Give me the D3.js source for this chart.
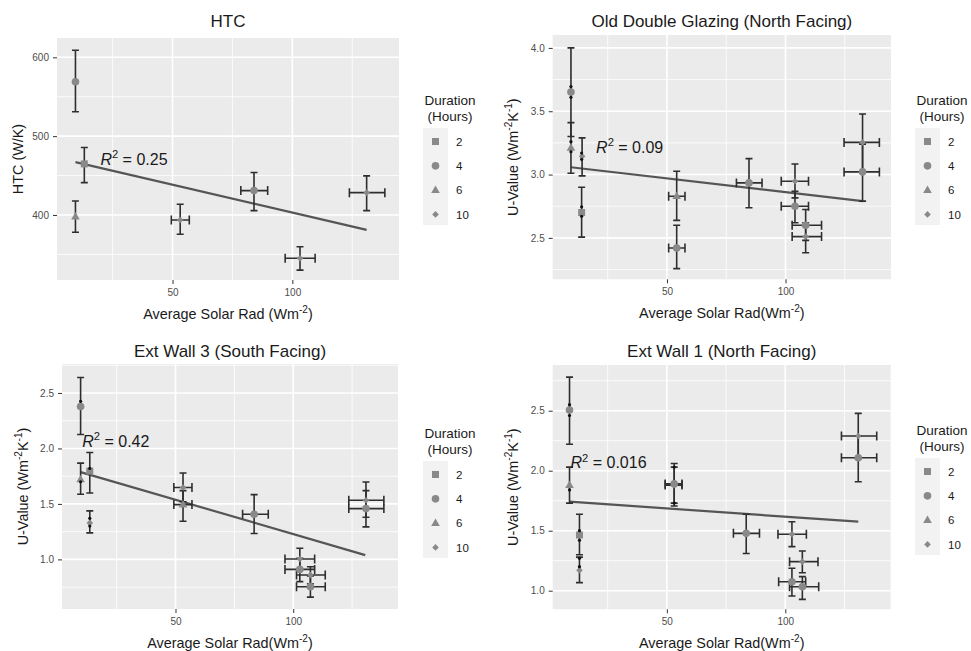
<!DOCTYPE html>
<html>
<head>
<meta charset="utf-8">
<script src="https://cdn.jsdelivr.net/npm/d3@7"></script>
<style>
  body { margin: 0; background: #fff; }
  svg { font-family: "Liberation Sans", Arial, sans-serif; }
</style>
</head>
<body>
<div id="chart"></div>
<script>
// ---- data ----
const durations = [2, 4, 6, 10];
const xTicks = [50, 100];

// HTC
const htcX   = [9.5, 9.5, 13.2, 53.2, 84.0, 103.2, 131.0];
const htcY   = [569, 397.8, 464.8, 393.6, 430.9, 345.0, 428.3];
const htcDur = [4, 6, 2, 10, 4, 10, 10];
const htcYLo = [531, 378, 441, 375.5, 405.5, 330, 405.5];
const htcYHi = [609, 417.8, 485.5, 413.6, 453.8, 359.7, 449.6];
const htcXLo = [null, null, null, 49.5, 78.5, 97.0, 123.8];
const htcXHi = [null, null, null, 57.0, 89.7, 109.5, 138.6];
const htcFit = [[9.5, 467], [131, 381]];
const htcR2 = "0.25";
const htcYTicks = [400, 500, 600];
const htcDotX = [];
const htcDotY = [];

// Old Double Glazing (North Facing)
const glzX   = [9.5, 9.5, 14.2, 14.0, 54.1, 54.1, 84.6, 104.0, 104.0, 108.5, 108.5, 132.5, 132.5];
const glzY   = [3.651, 3.21, 3.144, 2.70, 2.829, 2.42, 2.934, 2.947, 2.75, 2.60, 2.51, 3.254, 3.021];
const glzDur = [4, 6, 10, 2, 6, 4, 4, 10, 4, 4, 10, 10, 4];
const glzYLo = [3.30, 3.01, 2.99, 2.506, 2.638, 2.257, 2.738, 2.816, 2.62, 2.48, 2.383, 3.03, 2.79];
const glzYHi = [4.00, 3.41, 3.29, 2.90, 3.026, 2.60, 3.126, 3.084, 2.868, 2.724, 2.62, 3.478, 3.24];
const glzXLo = [null, null, null, null, 50.7, 50.7, 79.3, 98.2, 98.2, 102.8, 102.8, 124.7, 124.7];
const glzXHi = [null, null, null, null, 57.6, 57.6, 90.1, 109.7, 109.7, 115.2, 115.2, 139.6, 139.6];
const glzFit = [[9.5, 3.058], [132.5, 2.79]];
const glzR2 = "0.09";
const glzYTicks = [2.5, 3.0, 3.5, 4.0];
const glzDotX = [9.5, 9.5, 9.5, 9.5, 14, 14, 14, 14];
const glzDotY = [3.695, 3.61, 3.26, 3.18, 3.17, 3.12, 2.745, 2.67];

// Ext Wall 3 (South Facing)
const w3X   = [9.7, 9.7, 13.6, 13.6, 53.2, 53.2, 83.4, 102.8, 102.8, 107.3, 107.3, 130.9, 130.9];
const w3Y   = [2.378, 1.72, 1.796, 1.329, 1.648, 1.494, 1.407, 1.003, 0.91, 0.859, 0.754, 1.533, 1.458];
const w3Dur = [4, 6, 2, 10, 10, 6, 4, 10, 4, 10, 4, 10, 4];
const w3YLo = [2.126, 1.587, 1.598, 1.239, 1.52, 1.344, 1.234, 0.91, 0.80, 0.78, 0.66, 1.38, 1.293];
const w3YHi = [2.64, 1.868, 1.964, 1.437, 1.778, 1.62, 1.584, 1.10, 1.009, 0.934, 0.85, 1.697, 1.62];
const w3XLo = [null, null, null, null, 49.3, 49.3, 78.5, 96.5, 96.5, 101.4, 101.4, 123.6, 123.6];
const w3XHi = [null, null, null, null, 57.0, 57.0, 89.4, 109.1, 109.1, 113.6, 113.6, 138.5, 138.5];
const w3Fit = [[9.7, 1.787], [130.6, 1.039]];
const w3R2 = "0.42";
const w3YTicks = [1.0, 1.5, 2.0, 2.5];
const w3DotX = [9.7, 9.7, 13.6, 13.6, 13.6];
const w3DotY = [2.425, 1.70, 1.82, 1.37, 1.30];

// Ext Wall 1 (North Facing)
const w1X   = [8.9, 8.9, 13.1, 13.1, 53.1, 53.1, 83.5, 102.8, 107.2, 102.8, 107.2, 130.8, 130.8];
const w1Y   = [2.506, 1.88, 1.464, 1.17, 1.89, 1.88, 1.478, 1.47, 1.242, 1.075, 1.033, 2.289, 2.108];
const w1Dur = [4, 6, 2, 10, 4, 10, 4, 10, 10, 4, 4, 10, 4];
const w1YLo = [2.22, 1.73, 1.30, 1.067, 1.73, 1.706, 1.31, 1.367, 1.15, 0.956, 0.928, 2.10, 1.908];
const w1YHi = [2.78, 2.03, 1.637, 1.28, 2.03, 2.06, 1.637, 1.575, 1.331, 1.187, 1.117, 2.478, 2.29];
const w1XLo = [null, null, null, null, 49.3, 49.3, 78.1, 96.9, 101.8, 97.2, 101.8, 123.7, 123.7];
const w1XHi = [null, null, null, null, 56.4, 56.4, 89.1, 108.9, 113.8, 108.6, 114.1, 138.6, 138.6];
const w1Fit = [[8.9, 1.742], [130.8, 1.575]];
const w1R2 = "0.016";
const w1YTicks = [1.0, 1.5, 2.0, 2.5];
const w1DotX = [8.9, 8.9, 8.9, 13.1, 13.1, 13.1, 13.1, 53.1, 53.1];
const w1DotY = [2.55, 2.46, 1.84, 1.50, 1.42, 1.27, 1.20, 2.03, 1.73];

// ---- panel table ----
const solarLab = sp => [{t: "Average Solar Rad" + sp + "(Wm"}, {t: "-2", sup: true}, {t: ")"}];
const uLab = [{t: "U-Value (Wm"}, {t: "-2", sup: true}, {t: "K"}, {t: "-1", sup: true}, {t: ")"}];

const panels = [
  {title: "HTC", x: htcX, y: htcY, dur: htcDur, yLo: htcYLo, yHi: htcYHi, xLo: htcXLo, xHi: htcXHi,
   fit: htcFit, r2: htcR2, r2At: [19.9, 463.5], yTicks: htcYTicks, yDom: [317.5, 624.5], fmt: d3.format("d"),
   dotX: htcDotX, dotY: htcDotY, xLab: solarLab(" "), yLab: [{t: "HTC (W/K)"}],
   box: {l: 57, r: 399, t: 38, b: 280, titleY: 26.7, yTitleX: 18, legX: 423, legT: 128}},
  {title: "Old Double Glazing (North Facing)", x: glzX, y: glzY, dur: glzDur, yLo: glzYLo, yHi: glzYHi, xLo: glzXLo, xHi: glzXHi,
   fit: glzFit, r2: glzR2, r2At: [20.1, 3.171], yTicks: glzYTicks, yDom: [2.173, 4.102], fmt: d3.format(".1f"),
   dotX: glzDotX, dotY: glzDotY, xLab: solarLab(""), yLab: uLab,
   box: {l: 552.7, r: 891, t: 35, b: 279.3, titleY: 26.5, yTitleX: 513, legX: 915, legT: 128}},
  {title: "Ext Wall 3 (South Facing)", x: w3X, y: w3Y, dur: w3Dur, yLo: w3YLo, yHi: w3YHi, xLo: w3XLo, xHi: w3XHi,
   fit: w3Fit, r2: w3R2, r2At: [10.4, 2.015], yTicks: w3YTicks, yDom: [0.553, 2.761], fmt: d3.format(".1f"),
   dotX: w3DotX, dotY: w3DotY, xLab: solarLab(""), yLab: uLab,
   box: {l: 62, r: 398, t: 364, b: 609, titleY: 356.5, yTitleX: 23, legX: 423, legT: 461}},
  {title: "Ext Wall 1 (North Facing)", x: w1X, y: w1Y, dur: w1Dur, yLo: w1YLo, yHi: w1YHi, xLo: w1XLo, xHi: w1XHi,
   fit: w1Fit, r2: w1R2, r2At: [9.3, 2.02], yTicks: w1YTicks, yDom: [0.845, 2.881], fmt: d3.format(".1f"),
   dotX: w1DotX, dotY: w1DotY, xLab: solarLab(""), yLab: uLab,
   box: {l: 552.7, r: 890.7, t: 365, b: 609.3, titleY: 356.5, yTitleX: 513, legX: 915, legT: 458}}
];

const xDom = [1.8, 144.5];
const ptCol = "#898989";
const barCol = "#2e2e2e";

// ggplot shapes 15,16,17,18
function shapePath(dur) {
  if (dur === 2) return "M-3.5,-3.5H3.5V3.5H-3.5Z";
  if (dur === 4) return d3.symbol(d3.symbolCircle, 46)();
  if (dur === 6) return "M0,-4.6L4.3,2.8H-4.3Z";
  return "M0,-3.3L3.3,0L0,3.3L-3.3,0Z";
}

// text with superscripts
function richText(sel, parts, fs) {
  const t = sel.append("text").attr("font-size", fs);
  let back = 0;
  parts.forEach(p => {
    const s = t.append("tspan").text(p.t);
    if (p.sup) {
      s.attr("font-size", fs * 0.7).attr("dy", -fs * 0.42);
      back = fs * 0.42;
    } else if (back) {
      s.attr("dy", back);
      back = 0;
    }
    if (p.it) s.attr("font-style", "italic");
  });
  return t;
}

const svg = d3.select("#chart").append("svg")
  .attr("width", 971)
  .attr("height", 651);

panels.forEach(p => {
  const b = p.box;
  const g = svg.append("g");
  const x = d3.scaleLinear().domain(xDom).range([b.l, b.r]);
  const y = d3.scaleLinear().domain(p.yDom).range([b.b, b.t]);

  // background
  g.append("rect")
    .attr("x", b.l).attr("y", b.t)
    .attr("width", b.r - b.l).attr("height", b.b - b.t)
    .attr("fill", "#ebebeb");

  // minor + major grid
  const xStep = xTicks[1] - xTicks[0];
  const xMinor = d3.range(xTicks[0] - xStep / 2, xDom[1], xStep).filter(v => v > xDom[0]);
  const yStep = p.yTicks[1] - p.yTicks[0];
  const yMinor = d3.range(p.yTicks[0] - yStep / 2, p.yDom[1], yStep).filter(v => v > p.yDom[0]);

  g.selectAll(".xmin").data(xMinor).enter().append("line")
    .attr("x1", d => x(d)).attr("x2", d => x(d)).attr("y1", b.t).attr("y2", b.b)
    .attr("stroke", "#fff").attr("stroke-width", 0.8);
  g.selectAll(".ymin").data(yMinor).enter().append("line")
    .attr("y1", d => y(d)).attr("y2", d => y(d)).attr("x1", b.l).attr("x2", b.r)
    .attr("stroke", "#fff").attr("stroke-width", 0.8);
  g.selectAll(".xmaj").data(xTicks).enter().append("line")
    .attr("x1", d => x(d)).attr("x2", d => x(d)).attr("y1", b.t).attr("y2", b.b)
    .attr("stroke", "#fff").attr("stroke-width", 1.6);
  g.selectAll(".ymaj").data(p.yTicks).enter().append("line")
    .attr("y1", d => y(d)).attr("y2", d => y(d)).attr("x1", b.l).attr("x2", b.r)
    .attr("stroke", "#fff").attr("stroke-width", 1.6);

  // axes
  const xAxis = g.append("g")
    .attr("transform", `translate(0,${b.b})`)
    .call(d3.axisBottom(x).tickValues(xTicks).tickSize(4).tickPadding(5).tickFormat(d3.format("d")));
  const yAxis = g.append("g")
    .attr("transform", `translate(${b.l},0)`)
    .call(d3.axisLeft(y).tickValues(p.yTicks).tickSize(4).tickPadding(4).tickFormat(p.fmt));
  [xAxis, yAxis].forEach(a => {
    a.select(".domain").remove();
    a.selectAll("line").attr("stroke", "#333");
    a.selectAll("text")
      .attr("fill", "#4d4d4d")
      .style("font-size", "10px")
      .style("font-family", '"Liberation Sans", Arial, sans-serif');
  });

  // fit line
  g.append("path")
    .datum(p.fit)
    .attr("d", d3.line().x(d => x(d[0])).y(d => y(d[1])))
    .attr("fill", "none")
    .attr("stroke", "#555")
    .attr("stroke-width", 2.2);

  const idx = d3.range(p.x.length);

  // vertical error bars
  const eb = g.append("g").attr("stroke", barCol).attr("stroke-width", 1.6).attr("fill", "none");
  eb.selectAll(".ev").data(idx).enter().append("path")
    .attr("d", i => {
      const cx = x(p.x[i]), lo = y(p.yLo[i]), hi = y(p.yHi[i]);
      return `M${cx - 3.5},${hi}H${cx + 3.5}M${cx},${hi}V${lo}M${cx - 3.5},${lo}H${cx + 3.5}`;
    });
  // horizontal error bars
  eb.selectAll(".eh").data(idx.filter(i => p.xLo[i] != null)).enter().append("path")
    .attr("d", i => {
      const cy = y(p.y[i]), lo = x(p.xLo[i]), hi = x(p.xHi[i]);
      return `M${lo},${cy - 4.5}V${cy + 4.5}M${lo},${cy}H${hi}M${hi},${cy - 4.5}V${cy + 4.5}`;
    });

  // points
  g.selectAll(".pt").data(idx).enter().append("path")
    .attr("transform", i => `translate(${x(p.x[i])},${y(p.y[i])})`)
    .attr("d", i => shapePath(p.dur[i]))
    .attr("fill", ptCol);

  // small dark points
  g.selectAll(".dot").data(d3.range(p.dotX.length)).enter().append("circle")
    .attr("cx", i => x(p.dotX[i]))
    .attr("cy", i => y(p.dotY[i]))
    .attr("r", 1.6)
    .attr("fill", "#111");

  // R^2 label
  richText(g, [{t: "R", it: true}, {t: "2", sup: true}, {t: " = " + p.r2}], 16)
    .attr("x", x(p.r2At[0]))
    .attr("y", y(p.r2At[1]))
    .attr("fill", "#1a1a1a");

  // titles
  g.append("text")
    .attr("x", (b.l + b.r) / 2)
    .attr("y", b.titleY)
    .attr("text-anchor", "middle")
    .attr("font-size", 17)
    .attr("fill", "#1a1a1a")
    .text(p.title);

  richText(g, p.xLab, 14.4)
    .attr("x", (b.l + b.r) / 2)
    .attr("y", b.b + 39)
    .attr("text-anchor", "middle")
    .attr("fill", "#1a1a1a");

  richText(g, p.yLab, 14.4)
    .attr("transform", `translate(${b.yTitleX},${(b.t + b.b) / 2}) rotate(-90)`)
    .attr("dy", "0.35em")
    .attr("text-anchor", "middle")
    .attr("fill", "#1a1a1a");

  // legend
  const lg = g.append("g").attr("transform", `translate(${b.legX},${b.legT})`);
  lg.append("text").attr("x", 27).attr("y", -23).attr("text-anchor", "middle")
    .attr("font-size", 13.5).attr("fill", "#1a1a1a").text("Duration");
  lg.append("text").attr("x", 27).attr("y", -7.5).attr("text-anchor", "middle")
    .attr("font-size", 13.5).attr("fill", "#1a1a1a").text("(Hours)");
  lg.append("rect").attr("width", 25).attr("height", 97).attr("fill", "#f2f2f2");
  const items = lg.selectAll(".it").data(durations).enter().append("g")
    .attr("transform", (d, i) => `translate(0,${13.5 + i * 24.3})`);
  items.append("path")
    .attr("transform", "translate(12.5,0)")
    .attr("d", d => shapePath(d))
    .attr("fill", ptCol);
  items.append("text")
    .attr("x", 33).attr("dy", "0.36em")
    .attr("font-size", 11.5).attr("fill", "#1a1a1a")
    .text(d => d);
});
</script>
</body>
</html>
